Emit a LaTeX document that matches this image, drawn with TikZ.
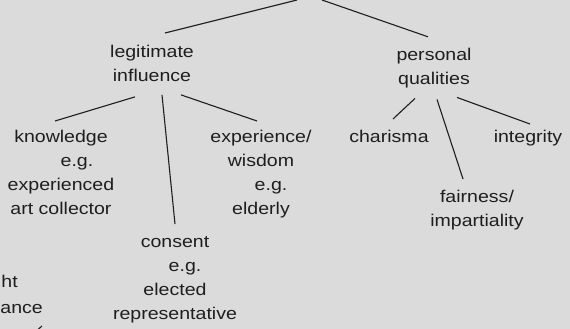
\documentclass[tikz,border=0pt]{standalone}
\usepackage{fontspec}
\setmainfont{Liberation Sans}[FakeStretch=1.15]
\usetikzlibrary{calc}
\definecolor{bg}{HTML}{DBDBDB}
\definecolor{ink}{HTML}{1E1E1E}
\begin{document}
\begin{tikzpicture}[x=1pt,y=-1pt,
  lbl/.style={font=\fontsize{17}{24}\selectfont, text=ink, align=center, inner sep=0pt, anchor=north},
  link/.style={draw=ink, line width=1.1pt}]
\fill[bg] (0,0) rectangle (570,329);
\useasboundingbox (0,0) rectangle (570,329);
\begin{scope}
\clip (0,0) rectangle (570,329);
\coordinate (topA) at (297,0);
\coordinate (topB) at (322,0);
\coordinate (cut) at (34,333);
\node[lbl] (legit) at (152,45) {legitimate\\influence};
\node[lbl] (pers) at (434,47.8) {personal\\qualities};
\node[lbl] (know) at (61,130) {knowledge\\\hspace*{32pt}e.g.\\experienced\\art collector};
\node[lbl] (exp) at (261,130) {experience/\\wisdom\\\hspace*{20pt}e.g.\\elderly};
\node[lbl] (cons) at (175,236.5) {consent\\\hspace*{20pt}e.g.\\elected\\representative};
\node[lbl] (char) at (389,130) {charisma};
\node[lbl] (integ) at (528,130) {integrity};
\node[lbl] (fair) at (477,190) {fairness/\\impartiality};
\node[lbl, anchor=base east] (ht) at (18,287) {ht};
\node[lbl, anchor=base east] (ance) at (43,313) {ance};
\draw[link] ($(legit.north)+(13,-12)$) -- (topA);
\draw[link] ($(pers.north)+(-6,-11)$) -- (topB);
\draw[link] ($(legit.south)+(-17,15)$) -- ($(know.north)+(-6,-9)$);
\draw[link] ($(legit.south)+(10,13)$) -- ($(cons.north)+(0,-12.5)$);
\draw[link] ($(legit.south)+(29,13)$) -- ($(exp.north)+(-4,-9)$);
\draw[link] ($(pers.south)+(-19,10.4)$) -- ($(char.north)+(4,-11)$);
\draw[link] ($(pers.south)+(3,11.4)$) -- ($(fair.north)+(-14,-11)$);
\draw[link] ($(pers.south)+(23,9.4)$) -- ($(integ.north)+(2,-6)$);
\draw[link] ($(ance.base east)+(-1,13)$) -- (cut);
\end{scope}
\end{tikzpicture}
\end{document}
